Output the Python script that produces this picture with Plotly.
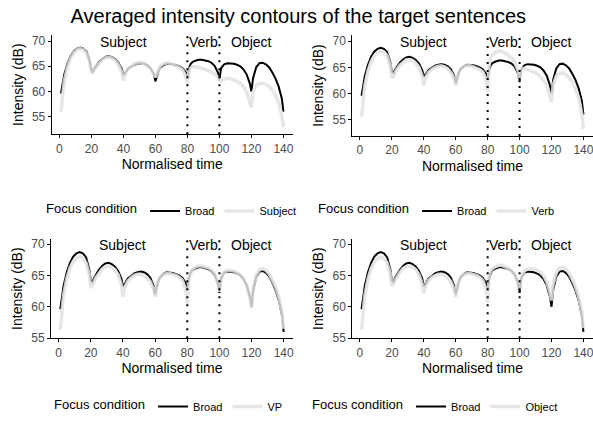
import plotly.graph_objects as go

time = [1, 2, 3, 5, 7, 9, 11, 13, 15, 17, 19, 20,
        21, 22, 23, 25, 27, 29, 31, 33, 35, 37, 39, 40,
        41, 42, 43, 45, 47, 49, 51, 53, 55, 57, 59, 60,
        61, 62, 63, 65, 67, 69, 71, 73, 75, 77, 79, 80,
        81, 82, 83, 85, 87, 89, 91, 93, 95, 97, 99, 100,
        101, 102, 103, 105, 107, 109, 111, 113, 115, 117, 119, 120,
        121, 122, 123, 125, 127, 129, 131, 133, 135, 137, 139, 140]

broad = [59.6, 61.8, 63.3, 65.5, 67.0, 68.0, 68.5, 68.7, 68.5, 67.9, 66.0, 64.2,
         63.9, 64.6, 65.1, 65.9, 66.5, 66.9, 67.0, 66.8, 66.4, 65.7, 64.5, 63.2,
         63.6, 64.1, 64.5, 64.9, 65.3, 65.5, 65.6, 65.5, 65.2, 64.6, 63.4, 62.0,
         63.3, 64.1, 64.7, 65.2, 65.5, 65.5, 65.4, 65.2, 65.0, 64.6, 63.8, 62.6,
         64.6, 65.4, 65.8, 66.1, 66.3, 66.3, 66.2, 66.0, 65.7, 65.1, 63.8, 62.2,
         64.6, 65.1, 65.4, 65.6, 65.6, 65.5, 65.3, 65.0, 64.4, 63.4, 61.6, 60.0,
         62.6, 63.9, 64.8, 65.6, 65.7, 65.4, 64.8, 63.8, 62.6, 61.0, 58.6, 56.0]

subject = [56.0, 59.5, 62.0, 64.8, 66.6, 67.7, 68.3, 68.5, 68.3, 67.6, 65.8, 63.6,
           63.9, 64.4, 64.9, 65.7, 66.3, 66.7, 66.8, 66.6, 66.1, 65.3, 63.8, 62.2,
           63.5, 64.1, 64.6, 65.1, 65.5, 65.7, 65.7, 65.5, 65.1, 64.5, 63.6, 62.8,
           63.6, 64.4, 65.0, 65.5, 65.7, 65.6, 65.4, 65.1, 64.8, 64.3, 63.0, 61.3,
           64.3, 64.7, 64.9, 64.9, 64.8, 64.6, 64.4, 64.2, 63.9, 63.5, 62.9, 62.6,
           62.1, 62.4, 62.5, 62.6, 62.5, 62.3, 62.0, 61.6, 61.0, 59.9, 58.0, 56.8,
           59.8, 60.7, 61.2, 61.6, 61.6, 61.4, 61.0, 60.3, 59.3, 57.8, 55.2, 52.9]

verb = [55.6, 59.0, 61.5, 64.3, 66.1, 67.2, 67.8, 68.1, 67.9, 67.2, 65.4, 63.0,
        63.3, 64.0, 64.6, 65.4, 66.0, 66.4, 66.5, 66.3, 65.8, 65.0, 63.3, 61.6,
        63.0, 63.6, 64.1, 64.6, 65.0, 65.2, 65.3, 65.1, 64.7, 64.0, 62.9, 61.6,
        63.2, 64.0, 64.6, 65.1, 65.3, 65.3, 65.1, 64.9, 64.6, 64.1, 62.5, 60.4,
        66.0, 66.8, 67.4, 67.9, 68.1, 68.0, 67.7, 67.3, 66.8, 66.0, 64.4, 62.6,
        64.6, 64.8, 64.8, 64.6, 64.4, 64.1, 63.8, 63.3, 62.6, 61.6, 59.6, 58.4,
        61.6, 62.6, 63.3, 63.9, 63.9, 63.6, 63.1, 62.2, 60.9, 59.2, 56.2, 53.3]

vp = [56.3, 59.5, 61.8, 64.5, 66.2, 67.2, 67.8, 68.0, 67.8, 67.0, 65.2, 63.0,
      63.4, 64.0, 64.6, 65.4, 66.0, 66.4, 66.5, 66.3, 65.9, 65.1, 63.5, 61.6,
      63.0, 63.6, 64.1, 64.6, 65.0, 65.2, 65.2, 65.0, 64.6, 64.0, 62.8, 61.6,
      63.4, 64.1, 64.6, 65.1, 65.3, 65.3, 65.2, 65.0, 64.7, 64.2, 62.6, 60.4,
      64.5, 65.4, 65.9, 66.3, 66.5, 66.5, 66.4, 66.2, 65.9, 65.3, 63.9, 62.4,
      64.4, 65.1, 65.5, 65.8, 65.8, 65.7, 65.4, 65.1, 64.5, 63.3, 61.4, 59.8,
      63.0, 64.2, 65.1, 65.9, 66.1, 65.8, 65.2, 64.2, 63.1, 61.5, 59.0, 56.5]

obj = [56.3, 59.4, 61.7, 64.4, 66.1, 67.1, 67.7, 67.9, 67.7, 67.0, 65.3, 63.3,
       63.6, 64.2, 64.7, 65.5, 66.1, 66.4, 66.5, 66.3, 65.9, 65.1, 63.6, 62.2,
       63.3, 63.8, 64.2, 64.7, 65.0, 65.2, 65.2, 65.0, 64.6, 64.0, 62.8, 61.6,
       63.4, 64.1, 64.6, 65.1, 65.3, 65.3, 65.2, 65.0, 64.7, 64.2, 62.7, 60.6,
       65.2, 65.8, 66.1, 66.4, 66.6, 66.6, 66.4, 66.1, 65.7, 65.0, 63.8, 62.7,
       64.6, 65.3, 65.7, 66.0, 66.1, 66.0, 65.8, 65.5, 65.0, 64.0, 62.3, 61.0,
       63.6, 64.6, 65.4, 66.2, 66.3, 66.0, 65.4, 64.4, 63.2, 61.6, 59.1, 56.6]

focus_names = ["Subject", "Verb", "VP", "Object"]
focus_values = [subject, verb, vp, obj]
region_labels = ["Subject", "Verb", "Object"]
region_label_x = [40, 90, 120]
boundaries = [80, 100]
x_ticks = [0, 20, 40, 60, 80, 100, 120, 140]
y_ticks = [55, 60, 65, 70]

W, H = 593, 421
FONT = "Liberation Sans, Arial, sans-serif"

# panel pixel boxes: (left, right, top, bottom)
boxes = [(51.7, 292.7, 35, 134.3), (352.3, 592.7, 35, 136),
         (51.0, 293.0, 239, 338.3), (352.3, 592.7, 239, 338.3)]
y_ranges = [[51.5, 71.2], [51.96, 71.14], [54.97, 70.8], [54.97, 70.8]]
# legend: (left px, y px, y anchor)
legend_pos = [(44, 211, "middle"), (316, 211, "middle"),
              (52, 421, "bottom"), (310, 421, "bottom")]

fig = go.Figure()
layout = dict(
    width=W, height=H, margin=dict(l=0, r=0, t=0, b=0),
    paper_bgcolor="white", plot_bgcolor="white",
    font=dict(family=FONT, color="black"),
    title=dict(text="Averaged intensity contours of the target sentences",
               x=0.503, xanchor="center", y=1 - 16 / H, yanchor="middle",
               font=dict(size=20, color="black")),
    showlegend=True,
)
shapes = []
annotations = []

for i in range(4):
    l, r, t, b = boxes[i]
    sfx = "" if i == 0 else str(i + 1)
    xa, ya = "x" + sfx, "y" + sfx
    lg = "legend" + sfx
    fig.add_trace(go.Scatter(x=time, y=broad, mode="lines", name="Broad",
                             line=dict(color="black", width=2),
                             xaxis=xa, yaxis=ya, legend=lg))
    fig.add_trace(go.Scatter(x=time, y=focus_values[i], mode="lines",
                             name=focus_names[i],
                             line=dict(color="rgba(226,226,226,0.85)", width=3.5),
                             xaxis=xa, yaxis=ya, legend=lg))
    common = dict(showline=True, linecolor="black", linewidth=1,
                  ticks="outside", ticklen=3, tickcolor="black",
                  showgrid=False, zeroline=False, automargin=False,
                  ticklabeloverflow="allow",
                  tickfont=dict(size=12, color="#4D4D4D"))
    layout["xaxis" + sfx] = dict(domain=[l / W, r / W], anchor=ya,
                                 range=[-4.8, 145.8], tickvals=x_ticks,
                                 title=dict(text="Normalised time", font=dict(size=14),
                                            standoff=4),
                                 **common)
    layout["yaxis" + sfx] = dict(domain=[1 - b / H, 1 - t / H], anchor=xa,
                                 range=y_ranges[i], tickvals=y_ticks,
                                 title=dict(text="Intensity (dB)", font=dict(size=14),
                                            standoff=5),
                                 **common)
    for bx in boundaries:
        shapes.append(dict(type="line", xref=xa, yref=ya + " domain",
                           x0=bx, x1=bx, y0=0, y1=1,
                           line=dict(color="black", width=2, dash="2px,6px")))
    for lab, lx in zip(region_labels, region_label_x):
        annotations.append(dict(text=lab, x=lx, y=69.8, xref=xa, yref=ya,
                                showarrow=False, xanchor="center", yanchor="middle",
                                font=dict(size=14, color="black")))
    lx, ly, yanc = legend_pos[i]
    layout[lg] = dict(orientation="h", x=lx / W, y=1 - ly / H,
                      xanchor="left", yanchor=yanc,
                      title=dict(text="Focus condition", side="left",
                                 font=dict(size=13, color="black")),
                      font=dict(size=11, color="black"),
                      bgcolor="rgba(0,0,0,0)", itemwidth=30)

layout["shapes"] = shapes
layout["annotations"] = annotations
fig.update_layout(**layout)
fig.write_html("out.html", config={"displayModeBar": False},
               post_script="document.body.style.margin='0';document.body.style.overflow='hidden';")
